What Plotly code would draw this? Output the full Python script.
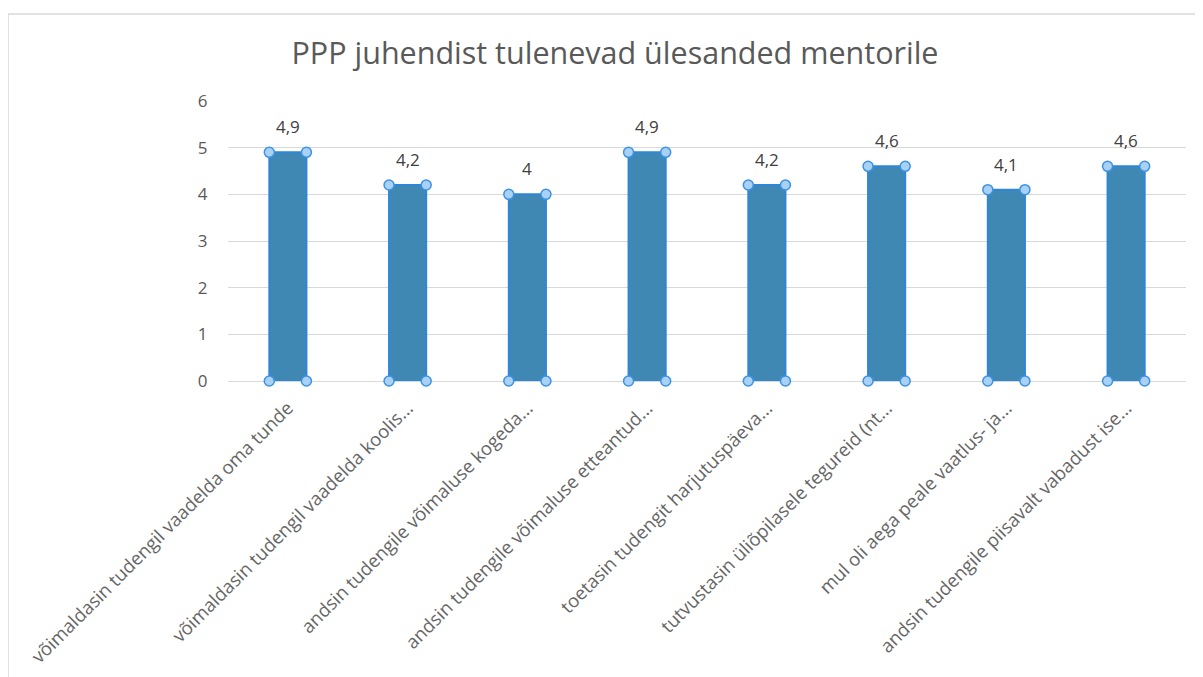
import plotly.graph_objects as go

title_text = "PPP juhendist tulenevad ülesanded mentorile"
categories = [
    "võimaldasin tudengil vaadelda oma tunde",
    "võimaldasin tudengil vaadelda koolis...",
    "andsin tudengile võimaluse kogeda...",
    "andsin tudengile võimaluse etteantud...",
    "toetasin tudengit harjutuspäeva...",
    "tutvustasin üliõpilasele tegureid (nt...",
    "mul oli aega peale vaatlus- ja...",
    "andsin tudengile piisavalt vabadust ise...",
]
values = [4.9, 4.2, 4.0, 4.9, 4.2, 4.6, 4.1, 4.6]
y_ticks = [0, 1, 2, 3, 4, 5, 6]

# page body has an 8px margin; figure coordinates are offset by it
OFF = 8
W, H = 1203 - OFF, 677 - OFF
L, T = 228 - OFF, 101 - OFF
R = W - (1186 - OFF)
B = H - (381 - OFF)
bar_w = 0.31
grey = "#595959"
font_family = "Open Sans, Liberation Sans, sans-serif"

xs = list(range(len(categories)))

fig = go.Figure()
fig.add_trace(go.Bar(
    x=xs, y=values, width=bar_w,
    marker=dict(color="#3f88b4", line=dict(color="#2f86d6", width=2)),
    hoverinfo="skip",
))

# selection handles at bar corners
hx, hy = [], []
for i, v in zip(xs, values):
    for dx in (-bar_w / 2, bar_w / 2):
        for yy in (v, 0):
            hx.append(i + dx)
            hy.append(yy)
fig.add_trace(go.Scatter(
    x=hx, y=hy, mode="markers", cliponaxis=False,
    marker=dict(size=10, color="#a9d0f5", line=dict(color="#3d93e3", width=1.5)),
    hoverinfo="skip",
))

for i, v in zip(xs, values):
    lab = ("%g" % v).replace(".", ",")
    fig.add_annotation(x=i, y=v, text=lab, showarrow=False, yanchor="bottom",
                       yshift=12, font=dict(size=17, color="#404040", family=font_family))

pw = W - L - R
ph = H - T - B
# chart frame (left and top edges visible)
fig.add_shape(type="rect", xref="paper", yref="paper",
              x0=(8 - OFF - L) / pw, x1=(1240 - OFF - L) / pw,
              y0=(H - B - 720) / ph, y1=(H - B - (14 - OFF)) / ph,
              line=dict(color="#d9d9d9", width=1.5), fillcolor="rgba(0,0,0,0)", layer="below")

fig.update_layout(
    width=W, height=H,
    margin=dict(l=L, r=R, t=T, b=B, autoexpand=False),
    paper_bgcolor="white", plot_bgcolor="white",
    showlegend=False,
    title=dict(text=title_text, x=(615 - OFF) / W, xanchor="center", xref="container",
               y=1 - (53 - OFF) / H, yanchor="middle", yref="container",
               font=dict(size=30.5, color=grey, family=font_family)),
    xaxis=dict(range=[-0.5, len(categories) - 0.5], tickvals=xs, ticktext=categories,
               tickangle=-45, showgrid=False, zeroline=False, showline=False,
               ticks="outside", ticklen=8, tickcolor="rgba(0,0,0,0)",
               tickfont=dict(size=18.5, color="#666666", family=font_family)),
    yaxis=dict(range=[0, 6], tickvals=y_ticks, showgrid=True, gridcolor="#d9d9d9",
               gridwidth=1, zeroline=True, zerolinecolor="#d9d9d9", zerolinewidth=1,
               showline=False, ticks="outside", ticklen=16, tickcolor="rgba(0,0,0,0)",
               tickfont=dict(size=17, color=grey, family=font_family)),
)

fig.write_html("out.html")
